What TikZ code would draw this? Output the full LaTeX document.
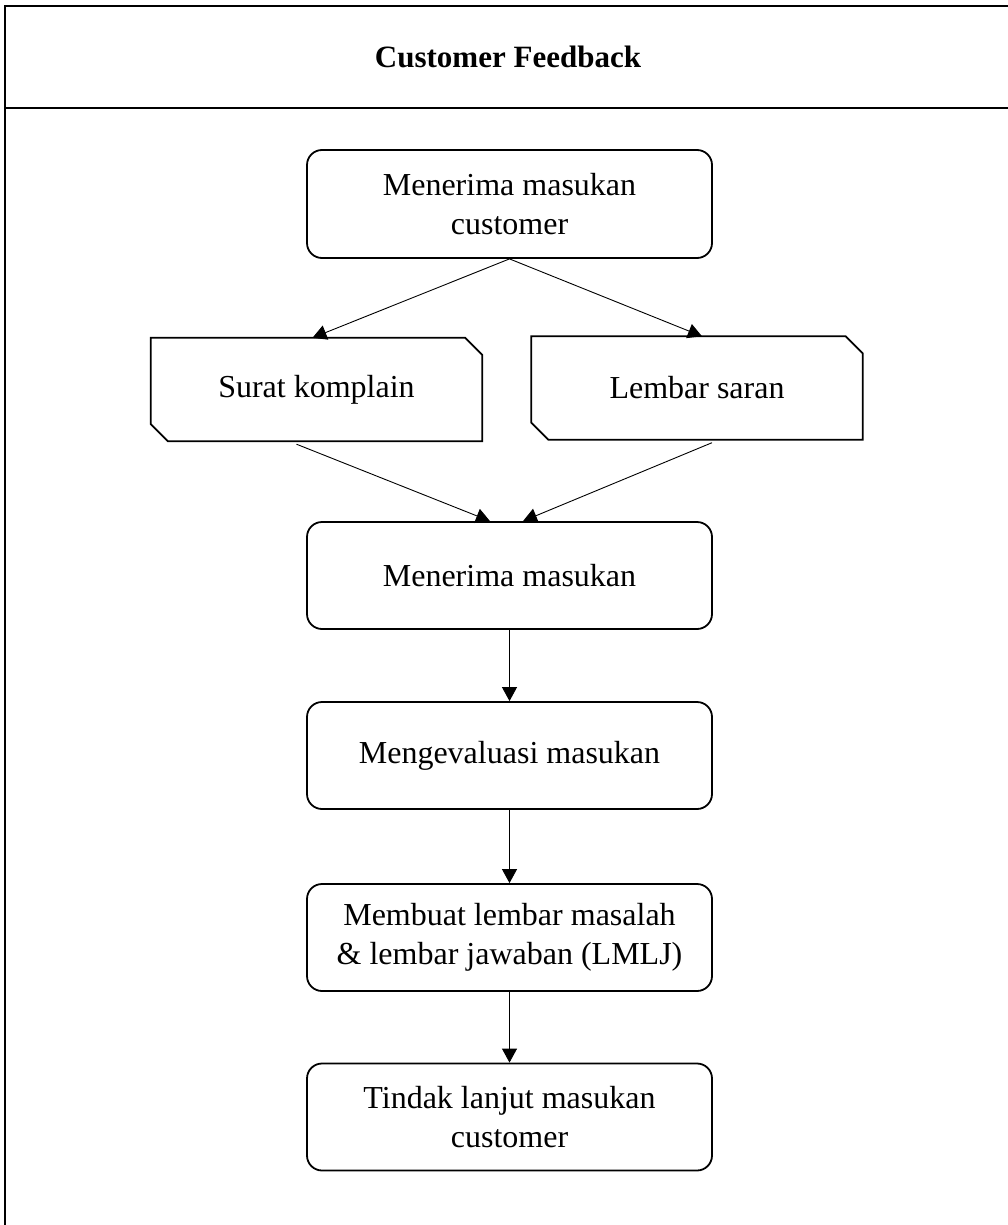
\documentclass[tikz,border=0pt]{standalone}
\usepackage{fontspec}
\setmainfont{Liberation Serif}
\usetikzlibrary{arrows.meta,calc}
\begin{document}
\begin{tikzpicture}[x=1pt,y=-1pt,
  frame/.style={line width=2.2pt},
  procbox/.style={draw,line width=1.8pt,rounded corners=15pt,minimum width=405pt,minimum height=107pt,
     inner sep=0pt,align=center,font=\fontsize{32}{39}\selectfont},
  docbox/.style={minimum width=331pt,minimum height=103pt,inner sep=0pt,align=center,font=\fontsize{32}{39}\selectfont},
  docline/.style={line width=1.8pt,line join=miter},
  conn/.style={line width=0.9pt,-{Triangle[length=14pt,width=15pt]}},
  plainline/.style={line width=0.9pt}
]
\useasboundingbox (0,0) rectangle (1008,1225);
% frame
\coordinate (ftl) at (5,6);
\coordinate (ftr) at (1012,6);
\coordinate (fbl) at (5,1230);
\coordinate (hl) at (5,108);
\coordinate (hr) at (1012,108);
\draw[frame] (ftr) -- (ftl) -- (fbl);
\draw[frame] (hl) -- (hr);
\node[font=\bfseries\fontsize{31}{36}\selectfont] (title) at (508,57) {Customer Feedback};

% process boxes
\node[procbox,minimum height=108pt] (b1) at (509.5,204) {Menerima masukan\\customer};
\node[docbox] (sk) at (316.5,389.5) {Surat komplain};
\node[docbox] (ls) at (697,388) {Lembar saran};
\node[procbox] (b3) at (509.5,575.5) {Menerima masukan};
\node[procbox] (b4) at (509.5,755.5) {Mengevaluasi masukan};
\node[procbox] (b5) at (509.5,937.5) {Membuat lembar masalah\\\& lembar jawaban (LMLJ)};
\node[procbox] (b6) at (509.5,1117) {Tindak lanjut masukan\\customer};

% document shapes (chamfered top-right and bottom-left)
\draw[docline] (sk.north west) -- ([xshift=-17pt]sk.north east) -- ([yshift=-17pt]sk.north east)
  -- (sk.south east) -- ([xshift=17pt]sk.south west) -- ([yshift=17pt]sk.south west) -- cycle;
\draw[docline] (ls.north west) -- ([xshift=-17pt]ls.north east) -- ([yshift=-17pt]ls.north east)
  -- (ls.south east) -- ([xshift=17pt]ls.south west) -- ([yshift=17pt]ls.south west) -- cycle;

% connectors
\draw[conn] (b1.south) -- ([xshift=-4pt]sk.north);
\draw[conn] (b1.south) -- ([xshift=5pt]ls.north);
\draw[conn] ([xshift=-20pt,yshift=-3pt]sk.south) -- ([xshift=-19.5pt]b3.north);
\draw[conn] ([xshift=15pt,yshift=-3pt]ls.south) -- ([xshift=13.5pt]b3.north);
\draw[conn] (b3.south) -- (b4.north);
\draw[conn] (b4.south) -- (b5.north);
\draw[conn] (b5.south) -- (b6.north);
\end{tikzpicture}
\end{document}
